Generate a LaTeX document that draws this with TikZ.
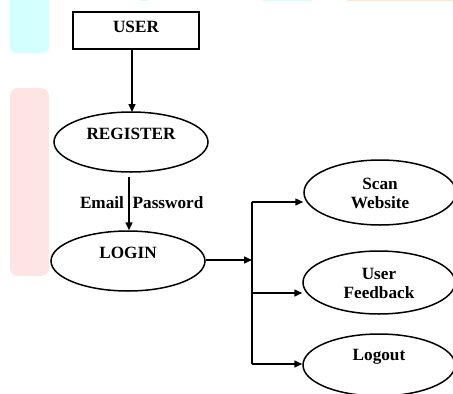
\documentclass[tikz,border=0pt]{standalone}
\usepackage{fontspec}
\setmainfont{Liberation Serif}
\usetikzlibrary{shapes.geometric,arrows.meta}
\definecolor{patchcyan}{RGB}{212,255,255}
\definecolor{patchpink}{RGB}{255,228,228}
\definecolor{patchorange}{RGB}{255,228,200}
\tikzset{
  every node/.style={font=\fontsize{17.2}{19}\selectfont\bfseries, inner sep=0pt},
  oval/.style={draw, ellipse, line width=1.5pt, minimum width=154pt, minimum height=60pt},
  userbox/.style={draw, rectangle, line width=1.5pt, minimum width=126pt, minimum height=37pt},
  conn/.style={line width=1.5pt},
  arr/.style={conn, -{Triangle[length=8pt,width=7pt]}},
}
\begin{document}
\begin{tikzpicture}[x=1pt,y=-1pt]
\useasboundingbox (0,0) rectangle (453,394);
\begin{scope}
\clip (0,0) rectangle (453,394);
% faint background patches
\fill[patchcyan, rounded corners=6pt] (10,-10) -- (10,53) -- (49,53) -- (49,-10) -- cycle;
\fill[patchpink, rounded corners=8pt] (10,88) -- (10,276) -- (49,276) -- (49,88) -- cycle;
\fill[patchcyan] (140,0) rectangle (148,1.2);
\fill[patchcyan] (262,0) rectangle (313,1.2);
\fill[patchorange] (347,0) rectangle (453,1.2);

% nodes
\node[userbox] (user) at (136,30.5) {};
\node (userT) at (136,27) {USER};
\node[oval] (register) at (131,142) {};
\node (registerT) at (131,134) {REGISTER};
\node[oval] (login) at (128,261) {};
\node (loginT) at (128,253) {LOGIN};
\node[oval, minimum width=152pt, minimum height=65pt] (scan) at (380,192.5) {};
\node[align=center] (scanT) at (380,193) {Scan\\[0pt]Website};
\node[oval, minimum width=152pt, minimum height=63pt] (feedback) at (379,282.5) {};
\node[align=center] (feedbackT) at (379,283) {User\\[0pt]Feedback};
\node[oval, minimum width=152pt, minimum height=62pt] (logout) at (379,365) {};
\node (logoutT) at (379,357) {Logout};
\node (emailT) at (102,203) {Email};
\node (passT) at (168,203) {Password};

% connectors
\draw[arr] (user.south -| 132,0) -- (132,112);
\coordinate (regOut) at (129,177);
\draw[arr] (regOut) -- (login.north -| regOut);
\coordinate (split) at (252,260);
\coordinate (topB) at (252,202);
\coordinate (midB) at (252,293);
\coordinate (botB) at (252,364);
\draw[arr] (login.east |- split) -- (split);
\draw[conn] (topB) -- (botB);
\draw[arr] (topB) -- (scan.west |- topB);
\draw[arr] (midB) -- (feedback.west |- midB);
\draw[arr] (botB) -- (logout.west |- botB);
\end{scope}
\end{tikzpicture}
\end{document}
